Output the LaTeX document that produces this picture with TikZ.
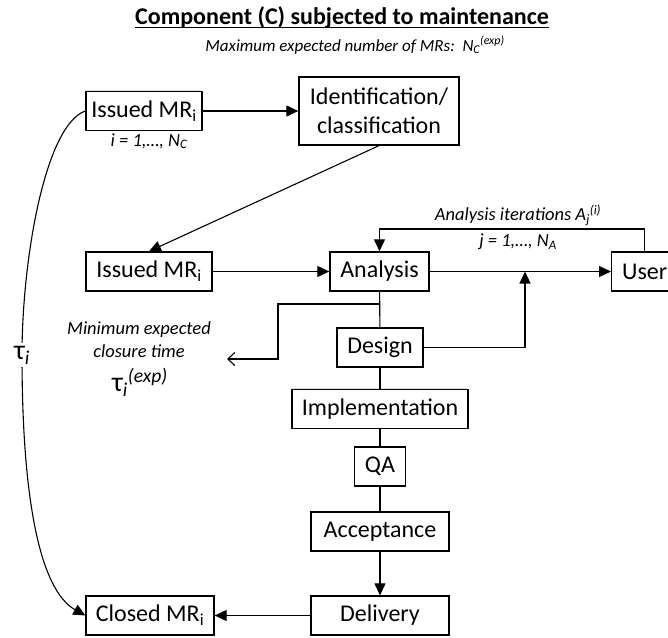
\documentclass[tikz,border=0pt]{standalone}
\usepackage{fontspec}
\setmainfont{Carlito}
\usetikzlibrary{arrows.meta,shadows}

\tikzset{
  box/.style={draw, line width=1.3pt, fill=white, minimum height=39pt,
    inner xsep=2pt, inner ysep=0pt, font=\fontsize{24}{29}\selectfont,
    drop shadow={shadow xshift=-1pt, shadow yshift=1.5pt, opacity=0.25}},
  link/.style={line width=1.1pt},
  flow/.style={link, -{Triangle[length=12pt,width=11pt]}},
  note/.style={font=\fontsize{18.5}{23}\selectfont\itshape, align=center},
}

\begin{document}
\begin{tikzpicture}[x=1pt,y=-1pt]
  \useasboundingbox (0,0) rectangle (668,637);

  % headings
  \node[font=\fontsize{24}{28}\selectfont\bfseries] (title) at (342,17)
    {\underline{\raisebox{0pt}[\height][1.5pt]{Component (C) subjected to maintenance}}};
  \node[note, font=\fontsize{17}{23}\selectfont\itshape] (maxn) at (355,45)
    {Maximum expected number of MRs:\ \ N\textsubscript{C}\textsuperscript{(exp)}};

  % boxes
  \node[box, minimum width=116pt] (issued) at (144,111) {Issued MR\textsubscript{i}};
  \node[box, minimum width=160pt, minimum height=68pt, align=center] (ident) at (379,111)
    {Identification/\\classification};
  \node[box, minimum width=126pt] (reissued) at (149,271.5) {Issued MR\textsubscript{i}};
  \node[box, minimum width=99pt] (analysis) at (379.5,271.5) {Analysis};
  \node[box, minimum width=66pt, anchor=west] (user) at (611,271.5) {User};
  \node[box, minimum width=86pt] (design) at (380,347.5) {Design};
  \node[box, minimum width=176pt] (impl) at (380,409) {Implementation};
  \node[box, minimum width=51pt] (qa) at (380,466.5) {QA};
  \node[box, minimum width=138pt] (accept) at (380,531.5) {Acceptance};
  \node[box, minimum width=138pt] (deliv) at (380,615.5) {Delivery};
  \node[box, minimum width=128pt] (closed) at (150,615.5) {Closed MR\textsubscript{i}};

  % labels
  \node[note] (irange) at (149,141) {i = 1,\ldots, N\textsubscript{C}};
  \node[note] (iters) at (518,215) {Analysis iterations A\textsubscript{j}\textsuperscript{(i)}};
  \node[note] (jrange) at (518,242) {j = 1,\ldots, N\textsubscript{A}};
  \node[note] (mintime) at (139,340) {Minimum expected\\closure time};
  \node[font=\fontsize{28}{30}\selectfont] (tauexp) at (140,382)
    {τ\textsubscript{\textit{i}}\textsuperscript{\textit{(exp)}}};

  % connectors
  \coordinate (looptop) at (0,229);
  \coordinate (merge) at (525,271.5);
  \coordinate (split) at (380,304);
  \coordinate (tauend) at (227,359);

  \draw[flow] (issued) -- (ident);
  \draw[flow] (ident.south) -- (reissued.north);
  \draw[flow] (reissued) -- (analysis);
  \draw[flow] (analysis) -- (user);
  \draw[flow] (user.north) |- (looptop -| analysis.north) -- (analysis.north);
  \draw[link] (analysis) -- (design);
  \draw[link] (design) -- (impl);
  \draw[link] (impl) -- (qa);
  \draw[link] (qa) -- (accept);
  \draw[flow] (accept) -- (deliv);
  \draw[flow] (deliv) -- (closed);
  \draw[flow] (design.east) -| (merge);
  \draw[link, -{Straight Barb[length=7pt,width=13pt]}] (split) -- ++(-102,0) |- (tauend);

  \draw[flow] (issued.west) .. controls (45,125) and (22,260) .. (22,355)
    node[fill=white, inner sep=3pt, font=\fontsize{28}{30}\selectfont] (tau)
      {τ\textsubscript{\textit{i}}}
    .. controls (22,500) and (40,590) .. (closed.west);
\end{tikzpicture}
\end{document}
